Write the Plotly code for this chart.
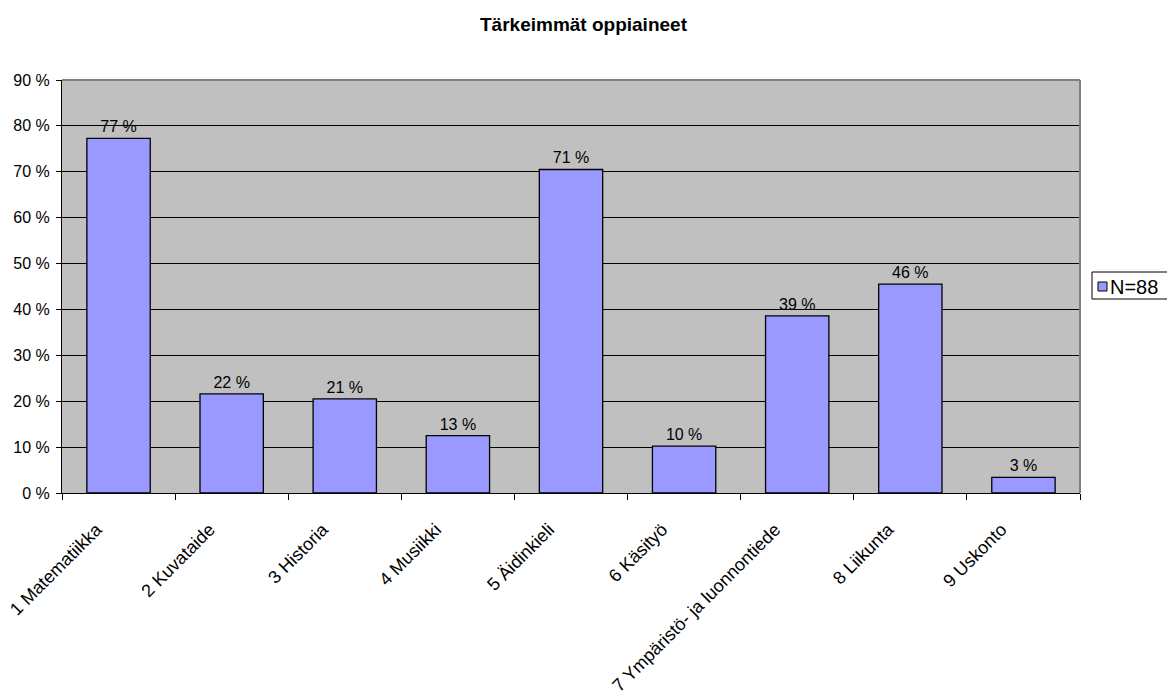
import math
import plotly.graph_objects as go

# Survey: most important school subjects (share of respondents, N=88)
subjects = [
    "1 Matematiikka",
    "2 Kuvataide",
    "3 Historia",
    "4 Musiikki",
    "5 Äidinkieli",
    "6 Käsityö",
    "7 Ympäristö- ja luonnontiede",
    "8 Liikunta",
    "9 Uskonto",
]
shares = [77.3, 21.6, 20.5, 12.5, 70.5, 10.2, 38.6, 45.5, 3.4]
series_name = "N=88"
y_ticks = [0, 10, 20, 30, 40, 50, 60, 70, 80, 90]

FONT = "Liberation Sans, Arial, sans-serif"
BAR_COLOR = "#9999FF"

W, H = 1167, 700
M_L, M_R, M_T, M_B = 62, 87, 80, 207
PLOT_W = W - M_L - M_R
PLOT_H = H - M_T - M_B


def pct_label(v):
    # round half up, as spreadsheet percentage formats do
    return f"{math.floor(v + 0.5)} %"


def px_x(px):
    return (px - M_L) / PLOT_W


def px_y(py):
    return (H - M_B - py) / PLOT_H


fig = go.Figure()
fig.add_trace(
    go.Bar(
        x=subjects,
        y=shares,
        name=series_name,
        marker=dict(color=BAR_COLOR, line=dict(color="#000000", width=1.3)),
        width=0.56,
        text=[pct_label(v) for v in shares],
        textposition="outside",
        textfont=dict(family=FONT, size=16, color="#000000"),
        cliponaxis=False,
        showlegend=False,
    )
)

fig.update_layout(
    width=W,
    height=H,
    margin=dict(l=M_L, r=M_R, t=M_T, b=M_B, autoexpand=False),
    paper_bgcolor="#FFFFFF",
    plot_bgcolor="#C0C0C0",
    font=dict(family=FONT, size=16, color="#000000"),
    title=dict(
        text="<b>Tärkeimmät oppiaineet</b>",
        x=0.5,
        xanchor="center",
        y=1 - 24 / H,
        yanchor="middle",
        font=dict(family=FONT, size=19, color="#000000"),
    ),
    bargap=0.44,
)

# gray frame on the top and right of the plot area
fig.add_shape(type="line", xref="paper", yref="paper", x0=0, x1=1, y0=1, y1=1,
              line=dict(color="#808080", width=2), layer="above")
fig.add_shape(type="line", xref="paper", yref="paper", x0=1, x1=1, y0=0, y1=1,
              line=dict(color="#808080", width=2), layer="above")

# legend box at the right edge of the page
fig.add_shape(type="rect", xref="paper", yref="paper",
              x0=px_x(1092), x1=px_x(1175), y0=px_y(299), y1=px_y(272),
              line=dict(color="#000000", width=1), fillcolor="#FFFFFF", layer="above")
fig.add_shape(type="rect", xref="paper", yref="paper",
              x0=px_x(1098), x1=px_x(1107), y0=px_y(291), y1=px_y(282),
              line=dict(color="#000000", width=1), fillcolor=BAR_COLOR, layer="above")
fig.add_annotation(
    xref="paper", yref="paper", x=px_x(1108), y=px_y(286.5),
    xanchor="left", yanchor="middle", showarrow=False,
    text=series_name, font=dict(family=FONT, size=20, color="#000000"),
)

fig.update_xaxes(
    type="category",
    tickangle=-45,
    ticks="outside",
    tickson="boundaries",
    ticklen=6,
    tickcolor="#000000",
    showline=True,
    linecolor="#000000",
    linewidth=1,
    showgrid=False,
    ticklabelshift=-22,
    ticklabelstandoff=18,
    tickfont=dict(family=FONT, size=18, color="#000000"),
)

fig.update_yaxes(
    range=[0, 90],
    tickvals=y_ticks,
    ticktext=[f"{t} %" for t in y_ticks],
    ticks="outside",
    ticklen=5,
    tickcolor="#000000",
    showline=True,
    linecolor="#000000",
    linewidth=1,
    showgrid=True,
    gridcolor="#000000",
    gridwidth=1,
    zeroline=False,
    ticklabelstandoff=3,
    tickfont=dict(family=FONT, size=16, color="#000000"),
)

fig.write_html("out.html")
